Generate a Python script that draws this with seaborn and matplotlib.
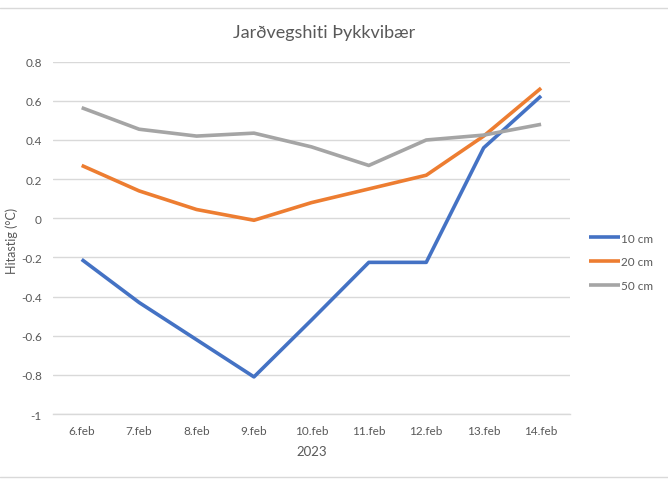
import matplotlib
matplotlib.use("Agg")
import matplotlib.pyplot as plt
import seaborn as sns
import pandas as pd
from matplotlib.lines import Line2D

dates = ["6.feb", "7.feb", "8.feb", "9.feb", "10.feb", "11.feb", "12.feb", "13.feb", "14.feb"]
cm10 = [-0.21, -0.43, -0.62, -0.81, -0.52, -0.225, -0.225, 0.36, 0.625]
cm20 = [0.27, 0.14, 0.045, -0.01, 0.08, 0.15, 0.22, 0.42, 0.665]
cm50 = [0.565, 0.455, 0.42, 0.435, 0.365, 0.27, 0.40, 0.425, 0.48]
series_names = ["10 cm", "20 cm", "50 cm"]
colors = ["#4472C4", "#ED7D31", "#A5A5A5"]
yticks = [-1, -0.8, -0.6, -0.4, -0.2, 0, 0.2, 0.4, 0.6, 0.8]

df = pd.DataFrame({"date": dates * 3,
                   "val": cm10 + cm20 + cm50,
                   "series": sum([[n] * len(dates) for n in series_names], [])})
df["x"] = list(range(len(dates))) * 3

sns.set_theme(style="white")
plt.rcParams["font.family"] = ["Lato", "DejaVu Sans"]

fig = plt.figure(figsize=(6.68, 4.81), dpi=100)
ax = fig.add_axes([0.0793, 0.137, 0.853 - 0.0793, 0.8697 - 0.137])

sns.lineplot(data=df, x="x", y="val", hue="series", palette=colors, linewidth=2.6,
             ax=ax, legend=True, solid_capstyle="butt")

ax.set_xlim(-0.5, len(dates) - 0.5)
ax.set_ylim(-1, 0.8)
ax.set_yticks(yticks)
ax.set_yticklabels([("%g" % t) for t in yticks])
ax.set_xticks(range(len(dates)))
ax.set_xticklabels(dates)
ax.yaxis.grid(True, color="#D9D9D9", linewidth=1)
ax.set_axisbelow(True)
for s in ["top", "right", "left"]:
    ax.spines[s].set_visible(False)
ax.spines["bottom"].set_color("#D9D9D9")
ax.spines["bottom"].set_linewidth(1)
ax.tick_params(axis="both", length=0, labelsize=8.5, labelcolor="#595959")
ax.tick_params(axis="x", pad=8)
ax.tick_params(axis="y", pad=8)

ax.set_xlabel("2023", fontsize=9.5, color="#595959", labelpad=6)
ax.set_ylabel("")
fig.text(12 / 668, 0.5, "Hitastig (°C)", rotation=90, ha="center", va="center",
         fontsize=9, color="#595959")
fig.text(0.485, 0.932, "Jarðvegshiti Þykkvibær", ha="center", va="center",
         fontsize=13, color="#595959")

handles, labels = ax.get_legend_handles_labels()
leg = ax.legend(handles, labels, loc="center left", bbox_to_anchor=(0.882, 1 - 263 / 481),
                bbox_transform=fig.transFigure, frameon=False, fontsize=8.5,
                labelcolor="#595959", handlelength=2.6, handletextpad=0.1,
                labelspacing=1.1, borderaxespad=0, borderpad=0)
for l in leg.get_lines():
    l.set_linewidth(2.6)

fig.add_artist(Line2D([0, 1], [1 - 9 / 481] * 2, transform=fig.transFigure,
                      color="#D9D9D9", linewidth=1))
fig.add_artist(Line2D([0, 1], [1 - 478 / 481] * 2, transform=fig.transFigure,
                      color="#D9D9D9", linewidth=1))

fig.savefig("out.png", dpi=100)
